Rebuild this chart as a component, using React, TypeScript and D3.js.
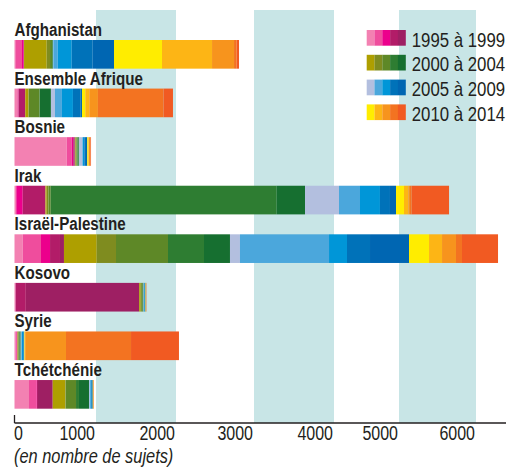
import { useEffect, useRef } from 'react';
import * as d3 from 'd3';

const width = 506;
const height = 468;

// one key per year, oldest first
const years = [
  '1995', '1996', '1997', '1998', '1999',
  '2000', '2001', '2002', '2003', '2004',
  '2005', '2006', '2007', '2008', '2009',
  '2010', '2011', '2012', '2013', '2014',
];

const yearColors = [
  '#F381B2', '#EF4D9D', '#EC008C', '#B21C68', '#9E1F63',
  '#AE9F00', '#7F8C1F', '#5E8827', '#2E7D32', '#166F30',
  '#B3BFDF', '#4BA7DC', '#0096D8', '#0072B9', '#0066B2',
  '#FFED00', '#FDB515', '#F7941D', '#F37321', '#F15A22',
];

const legendLabels = ['1995 à 1999', '2000 à 2004', '2005 à 2009', '2010 à 2014'];

const categories = [
  'Afghanistan',
  'Ensemble Afrique',
  'Bosnie',
  'Irak',
  'Israël-Palestine',
  'Kosovo',
  'Syrie',
  'Tchétchénie',
];

// number of stories per year
const afghanistan = [10, 82, 20, 3, 2, 278, 41, 24, 9, 3, 4, 54, 172, 258, 265, 600, 637, 282, 34, 30];
const afrique = [34, 13, 3, 79, 3, 40, 3, 132, 3, 137, 49, 86, 135, 90, 21, 40, 49, 107, 820, 118];
const bosnie = [640, 62, 19, 15, 6, 6, 13, 12, 10, 8, 41, 8, 16, 21, 16, 13, 8, 12, 7, 6];
const irak = [18, 4, 79, 277, 2, 15, 22, 27, 2840, 354, 439, 323, 307, 154, 93, 111, 56, 22, 22, 485];
const israel = [101, 224, 111, 122, 49, 402, 241, 650, 459, 333, 128, 1118, 262, 354, 576, 260, 169, 181, 78, 468];
const kosovo = [10, 2, 2, 125, 1401, 18, 15, 10, 7, 3, 4, 5, 6, 7, 2, 3, 2, 3, 2, 3];
const syrie = [12, 15, 4, 3, 3, 6, 6, 10, 8, 9, 7, 9, 16, 9, 3, 6, 5, 501, 806, 600];
const tchetchenie = [178, 94, 4, 12, 181, 154, 5, 127, 36, 123, 9, 10, 9, 9, 9, 3, 4, 5, 1, 2];

const seriesByCategory = [afghanistan, afrique, bosnie, irak, israel, kosovo, syrie, tchetchenie];

const tickValues = [0, 1000, 2000, 3000, 4000, 5000, 6000];
const shadedRanges = [
  [1000, 2000],
  [3000, 4000],
  [5000, 6000],
];

const font = '"Liberation Sans", Arial, sans-serif';
const narrow = 0.82; // horizontal squeeze to mimic the condensed face
const textColor = '#231F20';
const axisY = 423;

const place = (x, y) => `translate(${x},${y}) scale(${narrow},1)`;

const App = () => {
  const svgRef = useRef(null);

  useEffect(() => {
    const svg = d3.select(svgRef.current);
    svg.selectAll('*').remove();

    // the printed axis is not quite even, so follow its tick positions
    const x = d3
      .scaleLinear()
      .domain(tickValues)
      .range([14.5, 96, 176, 254, 334, 399, 476]);

    const y = d3
      .scaleBand()
      .domain(categories)
      .range([40, 408.7])
      .paddingInner(0.41)
      .paddingOuter(0);

    const color = d3.scaleOrdinal().domain(years).range(yearColors);

    const table = categories.map((name, i) => {
      const row: Record<string, any> = { name };
      years.forEach((yr, j) => (row[yr] = seriesByCategory[i][j]));
      return row;
    });
    const stacked = d3.stack().keys(years)(table);

    // background bands
    svg
      .append('g')
      .selectAll('rect')
      .data(shadedRanges)
      .join('rect')
      .attr('x', (d) => x(d[0]))
      .attr('width', (d) => x(d[1]) - x(d[0]))
      .attr('y', 10)
      .attr('height', axisY - 10)
      .attr('fill', '#C8E5E6');

    // bars
    svg
      .append('g')
      .selectAll('g')
      .data(stacked)
      .join('g')
      .attr('fill', (d) => color(d.key))
      .selectAll('rect')
      .data((d) => d)
      .join('rect')
      .attr('x', (d) => x(d[0]))
      .attr('width', (d) => Math.max(0, x(d[1]) - x(d[0])))
      .attr('y', (d) => y(d.data.name))
      .attr('height', y.bandwidth());

    // category names above bars
    svg
      .append('g')
      .selectAll('text')
      .data(categories)
      .join('text')
      .attr('transform', (d) => place(14.5, y(d) - 4))
      .attr('font-family', font)
      .attr('font-weight', 'bold')
      .attr('font-size', 18.5)
      .attr('fill', textColor)
      .text((d) => d);

    // axis
    const axis = svg.append('g');
    axis
      .append('line')
      .attr('x1', x(0))
      .attr('x2', width)
      .attr('y1', axisY)
      .attr('y2', axisY)
      .attr('stroke', textColor)
      .attr('stroke-width', 1.3);
    axis
      .append('line')
      .attr('x1', x(0))
      .attr('x2', x(0))
      .attr('y1', axisY - 8)
      .attr('y2', axisY)
      .attr('stroke', textColor)
      .attr('stroke-width', 1.3);
    axis
      .selectAll('text')
      .data(tickValues)
      .join('text')
      .attr('transform', (d) => place(d === 0 ? x(d) - 0.5 : x(d) - 1, 439.5))
      .attr('text-anchor', (d) => (d === 0 ? 'start' : 'end'))
      .attr('font-family', font)
      .attr('font-size', 19.5)
      .attr('fill', textColor)
      .text((d) => d);

    svg
      .append('text')
      .attr('transform', place(14, 462.5))
      .attr('font-family', font)
      .attr('font-style', 'italic')
      .attr('font-size', 20)
      .attr('fill', textColor)
      .text('(en nombre de sujets)');

    // legend
    const legend = svg
      .append('g')
      .selectAll('g')
      .data(legendLabels)
      .join('g')
      .attr('transform', (d, i) => `translate(366.7,${30 + i * 24.8})`);

    legend
      .selectAll('rect')
      .data((d, i) => years.slice(i * 5, i * 5 + 5))
      .join('rect')
      .attr('x', (d, j) => j * 7.8)
      .attr('width', 7.9)
      .attr('height', 15.7)
      .attr('fill', (d) => color(d));

    legend
      .append('text')
      .attr('transform', place(45, 16.5))
      .attr('font-family', font)
      .attr('font-size', 20.5)
      .attr('fill', textColor)
      .text((d) => d);
  }, []);

  return (
    <svg
      ref={svgRef}
      width={width}
      height={height}
      viewBox={`0 0 ${width} ${height}`}
      style={{ position: 'absolute', left: 0, top: 0, background: '#fff' }}
    ></svg>
  );
};

export default App;
